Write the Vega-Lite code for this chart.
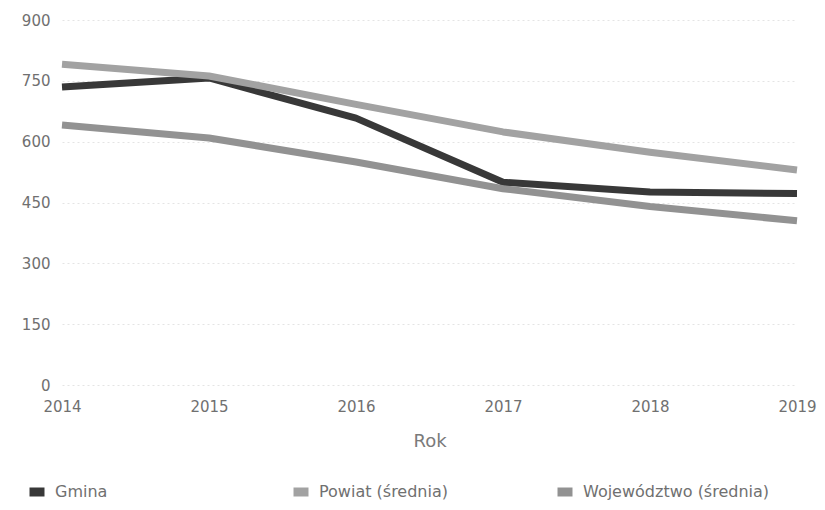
{
  "$schema": "https://vega.github.io/schema/vega-lite/v6.json",
  "autosize": "none",
  "width": 735,
  "height": 365,
  "padding": {"left": 62, "top": 20, "right": 28, "bottom": 125},
  "background": "white",
  "config": {
    "view": {"stroke": null},
    "font": "DejaVu Sans",
    "axis": {"labelFont": "DejaVu Sans", "titleFont": "DejaVu Sans", "labelColor": "#707070", "titleColor": "#7a7a7a"}
  },
  "data": {
    "values": [
      {"rok": "2014", "seria": "Gmina", "wartosc": 735},
      {"rok": "2015", "seria": "Gmina", "wartosc": 757},
      {"rok": "2016", "seria": "Gmina", "wartosc": 658},
      {"rok": "2017", "seria": "Gmina", "wartosc": 500},
      {"rok": "2018", "seria": "Gmina", "wartosc": 476},
      {"rok": "2019", "seria": "Gmina", "wartosc": 472},
      {"rok": "2014", "seria": "Powiat (średnia)", "wartosc": 791},
      {"rok": "2015", "seria": "Powiat (średnia)", "wartosc": 762},
      {"rok": "2016", "seria": "Powiat (średnia)", "wartosc": 692},
      {"rok": "2017", "seria": "Powiat (średnia)", "wartosc": 624},
      {"rok": "2018", "seria": "Powiat (średnia)", "wartosc": 574},
      {"rok": "2019", "seria": "Powiat (średnia)", "wartosc": 530},
      {"rok": "2014", "seria": "Województwo (średnia)", "wartosc": 641},
      {"rok": "2015", "seria": "Województwo (średnia)", "wartosc": 609},
      {"rok": "2016", "seria": "Województwo (średnia)", "wartosc": 550},
      {"rok": "2017", "seria": "Województwo (średnia)", "wartosc": 484},
      {"rok": "2018", "seria": "Województwo (średnia)", "wartosc": 440},
      {"rok": "2019", "seria": "Województwo (średnia)", "wartosc": 405}
    ]
  },
  "mark": {"type": "line", "strokeWidth": 7, "strokeJoin": "round"},
  "encoding": {
    "x": {
      "field": "rok", "type": "ordinal",
      "scale": {"type": "point", "padding": 0},
      "axis": {
        "title": "Rok", "titleFontSize": 18, "titleFontWeight": "normal", "titlePadding": 18,
        "labelAngle": 0, "labelFontSize": 15, "labelPadding": 14,
        "domain": false, "ticks": false, "grid": false
      }
    },
    "y": {
      "field": "wartosc", "type": "quantitative",
      "scale": {"domain": [0, 900]},
      "axis": {
        "title": null, "values": [0, 150, 300, 450, 600, 750, 900],
        "labelFontSize": 15, "labelPadding": 12,
        "domain": false, "ticks": false,
        "grid": true, "gridColor": "#e4e4e4", "gridDash": [2, 3], "gridWidth": 1
      }
    },
    "color": {
      "field": "seria", "type": "nominal",
      "scale": {
        "domain": ["Gmina", "Powiat (średnia)", "Województwo (średnia)"],
        "range": ["#383838", "#a2a2a2", "#929292"]
      },
      "legend": {
        "title": null, "orient": "none", "legendX": -37, "legendY": 460,
        "direction": "horizontal", "columns": 3, "gridAlign": "all", "columnPadding": 33,
        "symbolType": "M-1,0H1", "symbolSize": 225, "symbolStrokeWidth": 9, "symbolOffset": 0,
        "labelOffset": 6,
        "labelFontSize": 16, "labelColor": "#707070", "labelFont": "DejaVu Sans", "labelLimit": 300
      }
    }
  }
}
